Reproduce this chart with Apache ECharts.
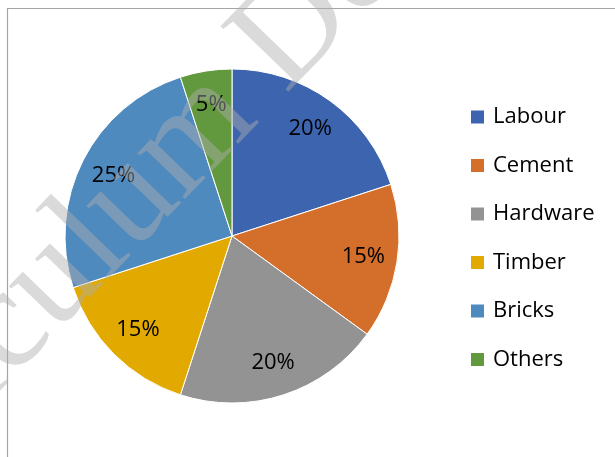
<!DOCTYPE html>
<html>
<head>
<meta charset="utf-8">
<script src="https://cdn.jsdelivr.net/npm/echarts@6/dist/echarts.min.js"></script>
<style>
  html, body { margin: 0; padding: 0; background: #ffffff; }
  #chart { width: 615px; height: 457px; }
</style>
</head>
<body>
<div id="chart"></div>
<script>
  // data
  var categories = ['Labour', 'Cement', 'Hardware', 'Timber', 'Bricks', 'Others'];
  var shares = [20, 15, 20, 15, 25, 5];
  var watermark = 'Curriculum Development';

  var colors = ['#3d64ae', '#d46e2b', '#939393', '#e2aa00', '#4f8abf', '#62993e'];

  var chart = echarts.init(document.getElementById('chart'));

  var pieData = categories.map(function (name, i) {
    return { name: name, value: shares[i], itemStyle: { color: colors[i] } };
  });
  var labelData = categories.map(function (name, i) {
    return { name: name, value: shares[i] };
  });

  var option = {
    animation: false,
    legend: {
      orient: 'vertical',
      left: 464,
      top: 101,
      itemWidth: 15,
      itemHeight: 15,
      itemGap: 26.5,
      icon: 'rect',
      data: categories,
      textStyle: { fontFamily: 'Open Sans', fontSize: 22, color: '#000000', padding: [0, 0, 0, 3] }
    },
    graphic: [
      {
        type: 'rect',
        z: -10,
        shape: { x: 7.5, y: 8.5, width: 700, height: 600 },
        style: { fill: 'none', stroke: '#a5a5a5', lineWidth: 1.2 }
      },
      {
        type: 'text',
        z: 100,
        x: -176,
        y: 622,
        rotation: 46 * Math.PI / 180,
        silent: true,
        style: {
          text: watermark,
          font: '144px "Liberation Serif"',
          fill: 'rgba(174,174,174,0.46)',
          align: 'left',
          verticalAlign: 'bottom'
        }
      }
    ],
    series: [
      {
        type: 'pie',
        center: [232, 236],
        radius: [0, 167],
        startAngle: 90,
        clockwise: true,
        silent: true,
        label: { show: false },
        labelLine: { show: false },
        itemStyle: { borderColor: '#ffffff', borderWidth: 1 },
        data: pieData
      },
      {
        type: 'pie',
        center: [232, 236],
        radius: [93, 167],
        startAngle: 90,
        clockwise: true,
        silent: true,
        z: 3,
        itemStyle: { color: 'rgba(0,0,0,0)' },
        label: {
          show: true,
          position: 'inside',
          formatter: '{c}%',
          fontFamily: 'Open Sans',
          fontSize: 22,
          color: '#000000'
        },
        labelLine: { show: false },
        data: labelData
      }
    ]
  };

  chart.setOption(option);
</script>
</body>
</html>
